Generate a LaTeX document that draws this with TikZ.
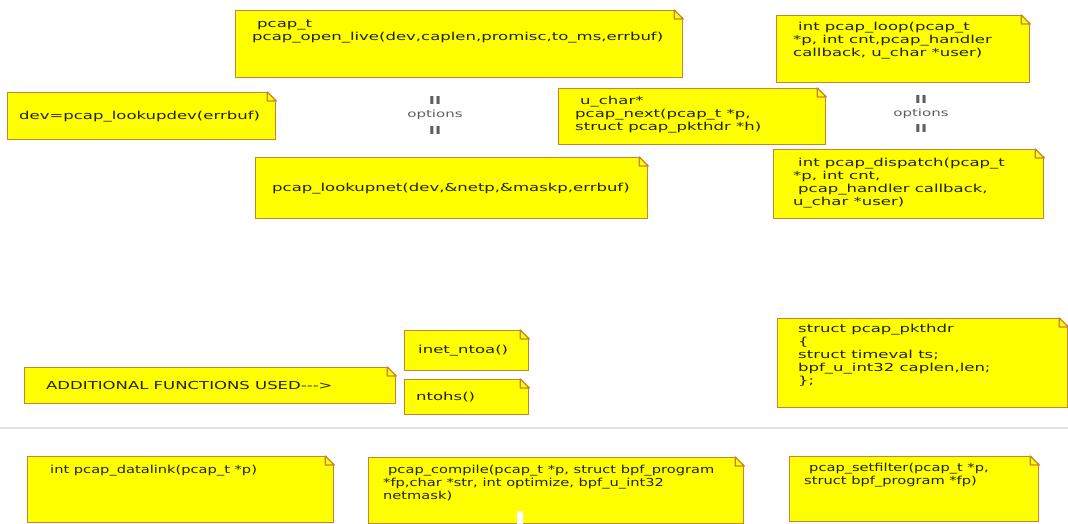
\documentclass[tikz,border=0pt]{standalone}
\usepackage{fontspec}
\usetikzlibrary{positioning}
\newfontfamily\notefont{DejaVu Sans}[FakeStretch=1.5]
\newfontfamily\lownotefont{DejaVu Sans}[FakeStretch=1.33]
\definecolor{noteyellow}{RGB}{255,255,0}
\definecolor{notebrown}{RGB}{200,130,50}
\definecolor{notetextcol}{RGB}{35,35,5}
\definecolor{optgray}{RGB}{95,95,95}
\definecolor{sepgray}{RGB}{225,225,225}
\tikzset{
    note/.style={draw=notebrown, fill=noteyellow, line width=1.3pt, inner sep=0pt, anchor=north west},
    notetext/.style={inner sep=0pt, align=left, text=notetextcol, font=\notefont\fontsize{11}{13}\selectfont},
    lownotetext/.style={notetext, font=\lownotefont\fontsize{11}{13}\selectfont},
    opt/.style={inner sep=0pt, text=optgray, font=\notefont\fontsize{10}{12}\selectfont},
    optbar/.style={opt, font=\notefont\fontsize{11}{12}\selectfont\bfseries}
}

\begin{document}
\begin{tikzpicture}[x=1pt,y=-1pt]
    \fill[white] (0,0) rectangle (1068,524);
    \useasboundingbox (0,0) rectangle (1068,524);

    % notes
    \node[note, minimum width=447pt, minimum height=67pt] (open) at (235,10) {};
    \node[note, minimum width=268pt, minimum height=47pt] (dev) at (7,92) {};
    \node[note, minimum width=267pt, minimum height=56pt] (next) at (558,88) {};
    \node[note, minimum width=392pt, minimum height=61pt] (net) at (255,157) {};
    \node[note, minimum width=253pt, minimum height=67pt] (loop) at (776,15) {};
    \node[note, minimum width=270pt, minimum height=69pt] (disp) at (773,149) {};
    \node[note, minimum width=124pt, minimum height=40pt] (inet) at (404,330) {};
    \node[note, minimum width=371pt, minimum height=36pt] (addl) at (24,367) {};
    \node[note, minimum width=124pt, minimum height=35pt] (ntohs) at (404,379) {};
    \node[note, minimum width=290pt, minimum height=89pt] (pkthdr) at (777,318) {};
    \node[note, minimum width=306pt, minimum height=66pt] (datalink) at (27,456) {};
    \node[note, minimum width=375pt, minimum height=66pt] (compile) at (368,457) {};
    \node[note, minimum width=249pt, minimum height=65pt] (setfilter) at (789,456) {};

    % folded corners
    \foreach \n in {open,dev,next,net,loop,disp,inet,addl,ntohs,pkthdr,datalink,compile,setfilter}{
        \fill[white] ([xshift=-9pt,yshift=1pt]\n.north east) -- ([xshift=1pt,yshift=1pt]\n.north east) -- ([xshift=1pt,yshift=-9pt]\n.north east) -- cycle;
        \draw[notebrown, line width=1.3pt, line join=round] ([xshift=-9pt]\n.north east) -- ([xshift=-9pt,yshift=-9pt]\n.north east) -- ([yshift=-9pt]\n.north east) -- cycle;
    }

    % texts
    \node[notetext, below right=10pt and 17pt of open.north west] (open-t) {\hspace*{5pt}pcap\_t\\pcap\_open\_live(dev,caplen,promisc,to\_ms,errbuf)};
    \node[notetext, right=12pt of dev.west] (dev-t) {dev=pcap\_lookupdev(errbuf)};
    \node[notetext, below right=8pt and 17pt of next.north west] (next-t) {\hspace*{5pt}u\_char*\\pcap\_next(pcap\_t *p,\\struct pcap\_pkthdr *h)};
    \node[notetext, right=17pt of net.west] (net-t) {pcap\_lookupnet(dev,\&netp,\&maskp,errbuf)};
    \node[notetext, below right=7pt and 17pt of loop.north west] (loop-t) {\hspace*{5pt}int pcap\_loop(pcap\_t\\{}*p, int cnt,pcap\_handler\\callback, u\_char *user)};
    \node[notetext, below right=9pt and 20pt of disp.north west] (disp-t) {\hspace*{5pt}int pcap\_dispatch(pcap\_t\\{}*p, int cnt,\\\hspace*{5pt}pcap\_handler callback,\\u\_char *user)};
    \node[notetext, right=14pt of inet.west] (inet-t) {inet\_ntoa()};
    \node[notetext, right=22pt of addl.west] (addl-t) {ADDITIONAL FUNCTIONS USED--->};
    \node[notetext, right=12pt of ntohs.west] (ntohs-t) {ntohs()};
    \node[notetext, below right=6pt and 21pt of pkthdr.north west] (pkthdr-t) {struct pcap\_pkthdr\\\{\\struct timeval ts;\\bpf\_u\_int32 caplen,len;\\\};};
    \node[lownotetext, below right=9pt and 23pt of datalink.north west] (datalink-t) {int pcap\_datalink(pcap\_t *p)};
    \node[lownotetext, below right=8pt and 15pt of compile.north west] (compile-t) {\hspace*{5pt}pcap\_compile(pcap\_t *p, struct bpf\_program\\{}*fp,char *str, int optimize, bpf\_u\_int32\\netmask)};
    \node[lownotetext, below right=7pt and 15pt of setfilter.north west] (setfilter-t) {\hspace*{5pt}pcap\_setfilter(pcap\_t *p,\\struct bpf\_program *fp)};

    % options between alternatives
    \node[opt] (opt1) at (435,115) {options};
    \node[optbar, above=5pt of opt1] (opt1-up) {II};
    \node[optbar, below=6pt of opt1] (opt1-dn) {II};
    \node[opt] (opt2) at (921,114) {options};
    \node[optbar, above=5pt of opt2] (opt2-up) {II};
    \node[optbar, below=5pt of opt2] (opt2-dn) {II};

    % separator
    \coordinate (sep-l) at (0,428);
    \coordinate (sep-r) at (1068,428);
    \draw[sepgray, line width=1.5pt] (sep-l) -- (sep-r);

    % white mark in compile note
    \fill[white, rounded corners=2pt] (517,511) rectangle (523,527);
\end{tikzpicture}
\end{document}
